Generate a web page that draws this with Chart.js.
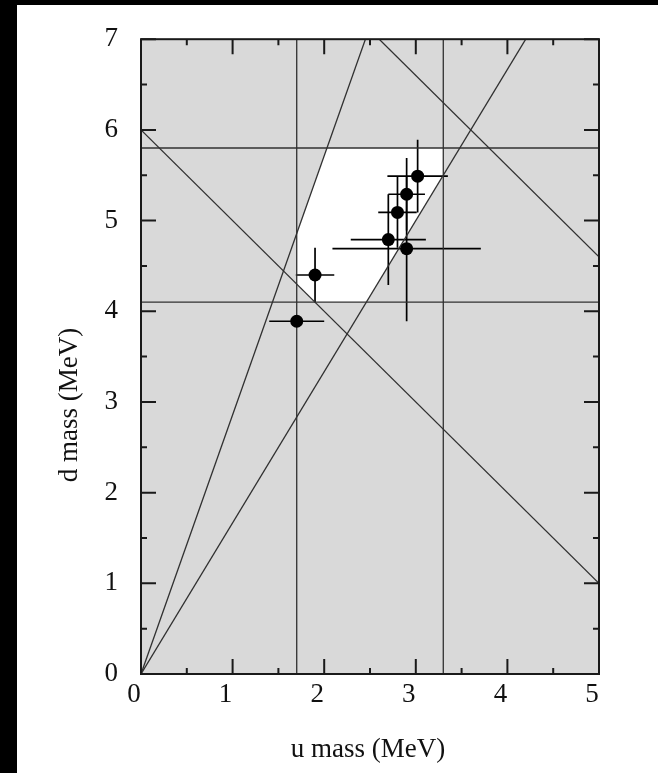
<!DOCTYPE html>
<html>
<head>
<meta charset="utf-8">
<title>u and d quark masses</title>
<script src="https://cdn.jsdelivr.net/npm/chart.js@4.4.1/dist/chart.umd.min.js"></script>
<style>
  html, body { margin: 0; padding: 0; background: #fff; }
  canvas { display: block; }
</style>
</head>
<body>
<canvas id="massChart" width="658" height="773"></canvas>
<script>
// allowed ranges (MeV)
const uRange = [1.7, 3.3];
const dRange = [4.1, 5.8];
const sumRange = [6.0, 9.6];       // mu + md
const ratioRange = [0.35, 0.60];   // mu / md

// individual determinations with errors
const uMass = [3.02, 2.90, 2.80, 2.70, 2.90, 1.90, 1.70];
const uErr  = [0.33, 0.20, 0.21, 0.41, 0.81, 0.21, 0.30];
const dMass = [5.49, 5.29, 5.09, 4.79, 4.69, 4.40, 3.89];
const dErr  = [0.40, 0.40, 0.39, 0.50, 0.80, 0.30, 0.00];

const xTicks = [0, 1, 2, 3, 4, 5];
const yTicks = [0, 1, 2, 3, 4, 5, 6, 7];

const xMin = xTicks[0], xMax = xTicks[xTicks.length - 1];
const yMin = yTicks[0], yMax = yTicks[yTicks.length - 1];

const serif = "'Liberation Serif', 'DejaVu Serif', serif";
const lineColor = '#303030';

function lineSet(points) {
    return {
        type: 'scatter',
        data: points,
        showLine: true,
        borderColor: lineColor,
        borderWidth: 1.3,
        pointRadius: 0,
        fill: false
    };
}

const datasets = [{
    type: 'scatter',
    data: uMass.map((u, i) => ({ x: u, y: dMass[i] })),
    backgroundColor: '#000',
    borderWidth: 0,
    pointRadius: 6.5
}];
uRange.forEach(u => datasets.push(lineSet([{ x: u, y: yMin }, { x: u, y: yMax }])));
dRange.forEach(d => datasets.push(lineSet([{ x: xMin, y: d }, { x: xMax, y: d }])));
sumRange.forEach(s => datasets.push(lineSet([{ x: 0, y: s }, { x: s, y: 0 }])));
ratioRange.forEach(r => datasets.push(lineSet([{ x: 0, y: 0 }, { x: r * 20, y: 20 }])));

// minor ticks sit halfway between the labelled ones
function minors(ticks) {
    const out = [];
    for (let i = 0; i < ticks.length - 1; i++) out.push((ticks[i] + ticks[i + 1]) / 2);
    return out;
}

const decor = {
    id: 'decor',
    beforeDraw(chart) {
        const ctx = chart.ctx;
        ctx.save();
        ctx.fillStyle = '#fff';
        ctx.fillRect(0, 0, chart.width, chart.height);
        // dark scan edges along the left and top
        ctx.fillStyle = '#000';
        ctx.fillRect(0, 0, 17, chart.height);
        ctx.fillRect(0, 0, chart.width, 5);
        ctx.restore();
    },
    beforeDatasetsDraw(chart) {
        const { ctx, chartArea: a, scales: { x, y } } = chart;
        const px = v => x.getPixelForValue(v);
        const py = v => y.getPixelForValue(v);
        ctx.save();
        ctx.fillStyle = '#d9d9d9';
        ctx.fillRect(a.left, a.top, a.right - a.left, a.bottom - a.top);

        // region allowed by every constraint
        ctx.save();
        ctx.beginPath();
        ctx.rect(px(uRange[0]), py(dRange[1]), px(uRange[1]) - px(uRange[0]), py(dRange[0]) - py(dRange[1]));
        ctx.clip();
        ctx.beginPath();
        ctx.moveTo(px(0), py(0));
        ctx.lineTo(px(ratioRange[0] * 20), py(20));
        ctx.lineTo(px(ratioRange[1] * 20), py(20));
        ctx.closePath();
        ctx.clip();
        ctx.beginPath();
        ctx.moveTo(px(0), py(sumRange[0]));
        ctx.lineTo(px(sumRange[0]), py(0));
        ctx.lineTo(px(sumRange[1]), py(0));
        ctx.lineTo(px(0), py(sumRange[1]));
        ctx.closePath();
        ctx.fillStyle = '#fff';
        ctx.fill();
        ctx.restore();

        // error bars
        ctx.strokeStyle = '#000';
        ctx.lineWidth = 1.7;
        uMass.forEach((u, i) => {
            const d = dMass[i];
            ctx.beginPath();
            ctx.moveTo(px(u - uErr[i]), py(d));
            ctx.lineTo(px(u + uErr[i]), py(d));
            if (dErr[i] > 0) {
                ctx.moveTo(px(u), py(d - dErr[i]));
                ctx.lineTo(px(u), py(d + dErr[i]));
            }
            ctx.stroke();
        });
        ctx.restore();
    },
    afterDraw(chart) {
        const { ctx, chartArea: a, scales: { x, y } } = chart;
        ctx.save();
        ctx.strokeStyle = '#1a1a1a';
        ctx.lineWidth = 2;
        ctx.strokeRect(a.left, a.top, a.right - a.left, a.bottom - a.top);

        // inward ticks on all four sides
        const mark = (pos, len, vertical) => {
            ctx.beginPath();
            if (vertical) {
                ctx.moveTo(pos, a.bottom); ctx.lineTo(pos, a.bottom - len);
                ctx.moveTo(pos, a.top); ctx.lineTo(pos, a.top + len);
            } else {
                ctx.moveTo(a.left, pos); ctx.lineTo(a.left + len, pos);
                ctx.moveTo(a.right, pos); ctx.lineTo(a.right - len, pos);
            }
            ctx.stroke();
        };
        xTicks.forEach(v => mark(x.getPixelForValue(v), 15, true));
        minors(xTicks).forEach(v => mark(x.getPixelForValue(v), 6, true));
        yTicks.forEach(v => mark(y.getPixelForValue(v), 15, false));
        minors(yTicks).forEach(v => mark(y.getPixelForValue(v), 6, false));

        // axis titles
        ctx.fillStyle = '#111';
        ctx.font = '27px ' + serif;
        ctx.textAlign = 'center';
        ctx.textBaseline = 'middle';
        ctx.fillText('u mass (MeV)', 368, 750);
        ctx.translate(70, 405);
        ctx.rotate(-Math.PI / 2);
        ctx.fillText('d mass (MeV)', 0, 0);
        ctx.restore();
    }
};

new Chart(document.getElementById('massChart'), {
    type: 'scatter',
    data: { datasets },
    options: {
        responsive: false,
        animation: false,
        devicePixelRatio: 1,
        layout: { padding: { left: 0, top: 35, right: 59, bottom: 0 } },
        plugins: { legend: { display: false }, tooltip: { enabled: false } },
        scales: {
            x: {
                type: 'linear',
                min: xMin,
                max: xMax,
                afterFit: s => { s.height = 99; },
                afterBuildTicks: s => { s.ticks = xTicks.map(v => ({ value: v })); },
                grid: { display: false, drawTicks: false },
                border: { display: false },
                ticks: {
                    color: '#111',
                    font: { family: serif, size: 27 },
                    padding: 5,
                    labelOffset: -7,
                    maxRotation: 0
                }
            },
            y: {
                type: 'linear',
                min: yMin,
                max: yMax,
                afterFit: s => { s.width = 141; },
                afterBuildTicks: s => { s.ticks = yTicks.map(v => ({ value: v })); },
                grid: { display: false, drawTicks: false },
                border: { display: false },
                ticks: {
                    color: '#111',
                    font: { family: serif, size: 27 },
                    padding: 23
                }
            }
        }
    },
    plugins: [decor]
});
</script>
</body>
</html>
